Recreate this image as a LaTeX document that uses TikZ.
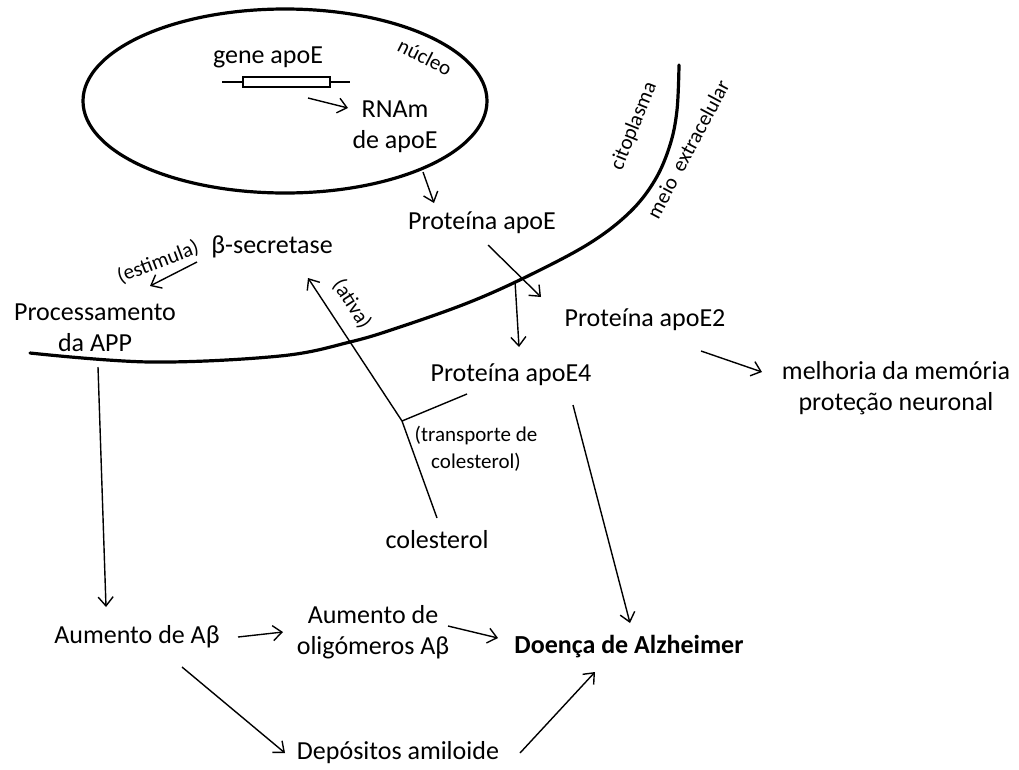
\documentclass[tikz,border=0pt]{standalone}
\usepackage{fontspec}
\setmainfont{Carlito}
\usetikzlibrary{arrows.meta}
\begin{document}
\begin{tikzpicture}[x=1pt,y=-1pt,
  lbl/.style={font=\fontsize{26}{31}\selectfont, inner sep=0pt, align=center},
  sml/.style={font=\fontsize{21}{27}\selectfont, inner sep=0pt, align=center},
  arr/.style={-{Straight Barb[length=9pt,width=15pt]}, line width=1.4pt},
  conn/.style={line width=1.4pt},
  wall/.style={line width=3.2pt}]
\useasboundingbox[fill=white] (0,0) rectangle (1019,769);

% nucleus
\coordinate (nucC) at (285,101);
\draw[wall] (nucC) ellipse [x radius=202, y radius=92];
\node[lbl] (gene) at (268,57) {gene apoE};
\node (genebox) [draw, line width=2pt, minimum width=87pt, minimum height=10pt, inner sep=0pt] at (286.5,82) {};
\coordinate (geneL) at (222,82);
\coordinate (geneR) at (350,82);
\draw[line width=2pt] (geneL) -- (genebox.west);
\draw[line width=2pt] (genebox.east) -- (geneR);
\node[lbl] (rna) at (395,127) {RNAm\\de apoE};
\node[sml, rotate=-27] (nucl) at (425,57) {núcleo};

% membrane
\draw[wall, line cap=round] plot[smooth, tension=0.6] coordinates {(30,353) (150,362) (280,356) (350,342) (400,327) (470,302) (530,275) (590,243) (630,212) (655,180) (670,145) (677,110) (679,65)};
\node[sml, rotate=68] (cito) at (634,126) {citoplasma};
\node[sml, rotate=62] (meio) at (688,149) {meio\hspace{0.45em}extracelular};

% text nodes
\node[lbl] (apoE) at (482,223) {Proteína apoE};
\node[lbl] (bsec) at (272,247) {β-secretase};
\node[sml, rotate=21] (estim) at (158,262) {(estimula)};
\node[lbl] (proc) at (95,328) {Processamento\\da APP};
\node[sml, rotate=-57] (ativa) at (352,304) {(ativa)};
\node[lbl] (apoE2) at (645,320) {Proteína apoE2};
\node[lbl] (apoE4) at (511,375) {Proteína apoE4};
\node[lbl] (melh) at (896,388) {melhoria da memória\\proteção neuronal};
\node[sml] (transp) at (476,449) {(transporte de\\colesterol)};
\node[lbl] (col) at (437,540) {colesterol};
\node[lbl] (aumAb) at (137,637) {Aumento de Aβ};
\node[lbl] (olig) at (373,632) {Aumento de\\oligómeros Aβ};
\node[lbl, font=\fontsize{26}{31}\selectfont\bfseries] (alz) at (629,647) {Doença de Alzheimer};
\node[lbl] (dep) at (398,753) {Depósitos amiloide};

% connector end points
\coordinate (geneOut) at (308,98);   \coordinate (rnaIn) at (348,108);
\coordinate (nucOut) at (423,172);   \coordinate (apoEIn) at (434,203);
\coordinate (apoEOut) at (488,245);  \coordinate (apoE2In) at (541,297);
\coordinate (memb) at (515,281);     \coordinate (apoE4In) at (519,347);
\coordinate (apoE2Out) at (701,351); \coordinate (melhIn) at (762,372);
\coordinate (colOut) at (437,518);   \coordinate (junc) at (402,421);
\coordinate (bsecIn) at (308,278);   \coordinate (apoE4Tr) at (467,394);
\coordinate (bsecOut) at (197,262);  \coordinate (procIn) at (150,286);
\coordinate (apoE4Out) at (573,405); \coordinate (alzInT) at (630,623);
\coordinate (procOut) at (98,367);   \coordinate (aumIn) at (106,607);
\coordinate (aumOutR) at (238,637);  \coordinate (oligIn) at (283,632);
\coordinate (oligOut) at (448,626);  \coordinate (alzInL) at (498,638);
\coordinate (aumOutD) at (182,667);  \coordinate (depIn) at (285,753);
\coordinate (depOut) at (520,753);   \coordinate (alzInB) at (595,672);

% connectors
\draw[arr] (geneOut) -- (rnaIn);
\draw[arr] (nucOut) -- (apoEIn);
\draw[arr] (apoEOut) -- (apoE2In);
\draw[arr] (memb) -- (apoE4In);
\draw[arr] (apoE2Out) -- (melhIn);
\draw[arr] (colOut) -- (junc) -- (bsecIn);
\draw[conn] (junc) -- (apoE4Tr);
\draw[arr] (bsecOut) -- (procIn);
\draw[arr] (apoE4Out) -- (alzInT);
\draw[arr] (procOut) -- (aumIn);
\draw[arr] (aumOutR) -- (oligIn);
\draw[arr] (oligOut) -- (alzInL);
\draw[arr] (aumOutD) -- (depIn);
\draw[arr] (depOut) -- (alzInB);
\end{tikzpicture}
\end{document}
